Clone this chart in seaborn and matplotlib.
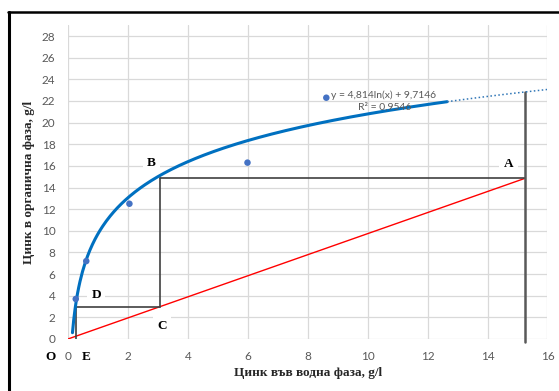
import numpy as np
import pandas as pd
import matplotlib
matplotlib.use("Agg")
import matplotlib.pyplot as plt
import seaborn as sns
from matplotlib.lines import Line2D

# ---- data ----
x_aq = [0.26, 0.61, 2.05, 5.99, 8.62]          # Цинк във водна фаза, g/l
y_org = [3.7, 7.2, 12.5, 16.3, 22.3]            # Цинк в органична фаза, g/l
coef_a = 4.814                                  # trend: y = a*ln(x) + b
coef_b = 9.7146
r2_text = "R² = 0,9546"
eq_text = "y = 4,814ln(x) + 9,7146"
trend_solid_range = [0.15, 12.65]
trend_dotted_end = 16.0
op_line_x = [0.0, 15.25]                        # red operating line
op_line_y = [0.0, 14.85]
pt_A = (15.25, 14.85)
pt_B = (3.07, 14.85)
pt_C = (3.07, 3.0)
pt_D = (0.27, 3.0)
pt_E = (0.27, 0.0)
x_ticks = [0, 2, 4, 6, 8, 10, 12, 14, 16]
y_ticks = [0, 2, 4, 6, 8, 10, 12, 14, 16, 18, 20, 22, 24, 26, 28]
x_label = "Цинк във водна фаза, g/l"
y_label = "Цинк в органична фаза, g/l"

sns.set_style("white")
plt.rcParams['font.family'] = ['Lato', 'DejaVu Sans']

fig = plt.figure(figsize=(5.59, 3.91), dpi=100)
ax = fig.add_axes([0.1216, 0.133, 0.8578, 0.8025])

ax.set_xlim(0, 16)
ax.set_ylim(0, 29)
ax.set_xticks(x_ticks)
ax.set_yticks(y_ticks)
ax.grid(True, color="#d9d9d9", lw=0.9)
ax.set_axisbelow(True)
for s in ax.spines.values():
    s.set_visible(False)
ax.tick_params(length=0, labelsize=8.5, labelcolor="#595959", pad=9)

def trend(x):
    return coef_a * np.log(np.asarray(x, dtype=float)) + coef_b

xs = np.linspace(trend_solid_range[0], trend_solid_range[1], 300)
sns.lineplot(x=xs, y=trend(xs), ax=ax, color="#0070C0", lw=2.2, zorder=4)
xd = np.linspace(trend_solid_range[1], trend_dotted_end, 50)
sns.lineplot(x=xd, y=trend(xd), ax=ax, color="#2E75B6", lw=1.1,
             linestyle=(0, (1, 1.6)), zorder=4)

sns.lineplot(x=op_line_x, y=op_line_y, ax=ax, color="#FF0000", lw=1.0, zorder=3)

lc = "#404040"
ax.plot([pt_B[0], pt_A[0]], [pt_B[1], pt_A[1]], color=lc, lw=1.2, zorder=3)
ax.plot([pt_B[0], pt_C[0]], [pt_B[1], pt_C[1]], color=lc, lw=1.2, zorder=3)
ax.plot([pt_C[0], pt_D[0]], [pt_C[1], pt_D[1]], color=lc, lw=1.2, zorder=3)
ax.plot([pt_D[0], pt_E[0]], [pt_D[1], pt_E[1]], color=lc, lw=1.2, zorder=3)
ax.plot([pt_A[0], pt_A[0]], [-0.25, float(trend(pt_A[0]))], color="#595959",
        lw=1.8, zorder=3, clip_on=False)

sns.scatterplot(x=x_aq, y=y_org, ax=ax, color="#4472C4", s=22,
                edgecolor="none", zorder=5)

ax.text(10.53, 22.55, eq_text, ha="center", va="center", fontsize=7.5,
        color="#595959", zorder=6)
ax.text(10.56, 21.4, r2_text, ha="center", va="center", fontsize=7.5,
        color="#595959", zorder=6)

lab = dict(fontsize=9.5, fontweight="bold", family="Liberation Serif",
           ha="center", va="center", color="black", zorder=6)
box = dict(facecolor="white", edgecolor="none", pad=3)
ax.text(2.78, 16.3, "B", bbox=box, **lab)
ax.text(14.7, 16.2, "A", bbox=box, **lab)
ax.text(3.13, 1.2, "C", bbox=box, **lab)
ax.text(0.94, 4.1, "D", bbox=box, **lab)
ax.text(0.6, -1.65, "E", clip_on=False, **lab)
ax.text(-0.57, -1.65, "O", clip_on=False, **lab)

ax.set_xlabel(x_label, fontsize=9.5, fontweight="bold",
              family="Liberation Serif", labelpad=3)
ax.set_ylabel(y_label, fontsize=9.5, fontweight="bold",
              family="Liberation Serif", labelpad=5)

# outer frame
fig.add_artist(Line2D([8.8 / 559, 8.8 / 559], [0, 1 - 12 / 391],
                      transform=fig.transFigure, color="black", lw=2.2))
fig.add_artist(Line2D([7.7 / 559, 1], [1 - 12 / 391, 1 - 12 / 391],
                      transform=fig.transFigure, color="black", lw=1.8))

fig.savefig("out.png", dpi=100)
